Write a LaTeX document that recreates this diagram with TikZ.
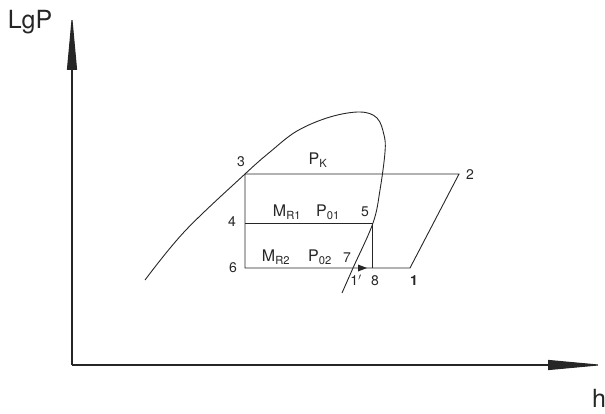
\documentclass[tikz,border=0pt]{standalone}
\usepackage{fontspec}
\setmainfont{TeX Gyre Heros}
\usetikzlibrary{arrows.meta}
\begin{document}
\begin{tikzpicture}[x=1pt,y=-1pt,
  ln/.style={line width=0.9pt,black!85},
  axis/.style={line width=1.1pt,black!85,-{Triangle[length=56pt,width=10pt]}},
  pt/.style={font=\fontsize{14}{14}\selectfont,inner sep=0pt,black!85},
  lbl/.style={font=\fontsize{16}{16}\selectfont,inner sep=0pt,black!85},
  big/.style={font=\fontsize{25}{25}\selectfont,inner sep=0pt,black!85}]
\useasboundingbox (0,0) rectangle (605,414);
% axes
\coordinate (O) at (72,365);
\coordinate (Ytop) at (72,14);
\coordinate (Xend) at (604,365);
\draw[axis] (O) -- (Ytop);
\draw[axis] (O) -- (Xend);
\node[big] (lgp) at (30,22) {LgP};
\node[big] (h) at (599,398) {h};
% cycle points
\coordinate (p3) at (245,174);
\coordinate (p2) at (459,174);
\coordinate (p4) at (245,223);
\coordinate (p5) at (372,223);
\coordinate (p6) at (245,268);
\coordinate (p8) at (372,268);
\coordinate (p1) at (410,268);
\draw[ln] (p3) -- (p2) -- (p1) -- (p6) -- cycle;
\draw[ln] (p4) -- (p5) -- (p8);
% saturation curve
\draw[ln] plot[smooth,tension=0.6] coordinates {(145,280) (185,231) (245,174) (270,152) (297,131) (330,117) (360,112) (377,118) (384,135) (385,152) (380,190) (373,223) (353,268) (342,293)};
% small marker at 1'
\fill[black!85] (358,264.5) -- (367,268) -- (358,271.5) -- cycle;
% labels
\node[pt] (l3) at (241,162) {3};
\node[pt] (l2) at (470,175) {2};
\node[pt] (l4) at (232,222) {4};
\node[pt] (l5) at (365,212) {5};
\node[pt] (l6) at (233,268) {6};
\node[pt] (l7) at (347,258) {7};
\node[pt] (l1p) at (356,280) {1$'$};
\node[pt] (l8) at (375,281) {8};
\node[pt,font=\fontsize{14}{14}\selectfont\bfseries] (l1) at (414,281) {1};
\node[lbl] (pk) at (318,160) {P\textsubscript{K}};
\node[lbl] (mr1) at (287,212) {M\textsubscript{R1}};
\node[lbl] (p01) at (328,212) {P\textsubscript{01}};
\node[lbl] (mr2) at (276,257) {M\textsubscript{R2}};
\node[lbl] (p02) at (320,257) {P\textsubscript{02}};
\end{tikzpicture}
\end{document}
